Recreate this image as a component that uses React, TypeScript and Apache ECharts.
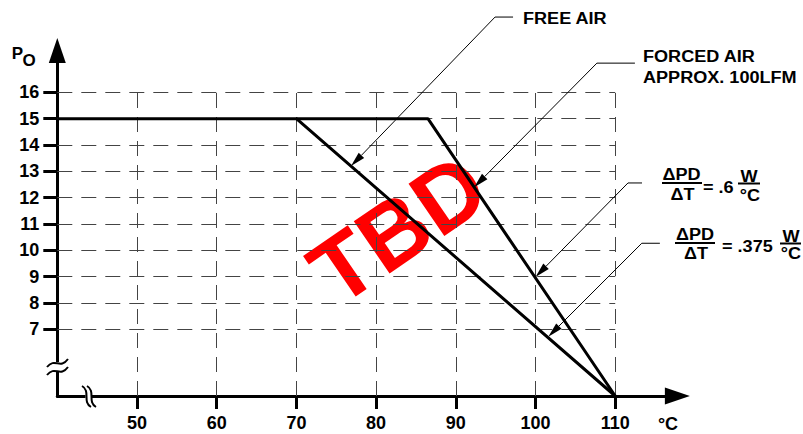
import React, { useEffect, useRef } from 'react';
import * as echarts from 'echarts';

const FONT = '"Liberation Sans", Arial, Helvetica, sans-serif';

const xTicks = [50, 60, 70, 80, 90, 100, 110];
const yTicks = [7, 8, 9, 10, 11, 12, 13, 14, 15, 16];
const X_MIN = 40;
const X_MAX = 117.8;
const Y_MIN = 4.47;
const Y_MAX = 17.59;

const freeAir: number[][] = [[40, 15], [70, 15], [110, 4.47]];
const forcedAir: number[][] = [[70, 15], [86.5, 15], [110, 4.47]];

// leader arrows: tip, elbow, tail end (data coordinates)
const arrowTips: number[][] = [[76.85, 13.2], [92.3, 12.4], [100.0, 8.99], [101.6, 6.72]];
const arrowElbows: number[][] = [[94.92, 18.86], [107.7, 17.11], [111.6, 12.56], [113.33, 10.27]];
const arrowEnds: number[][] = [[97.18, 18.86], [112.47, 17.11], [113.36, 12.56], [115.6, 10.27]];

export default function App() {
  const ref = useRef<HTMLDivElement>(null);
  useEffect(() => {
    if (!ref.current) return;
    const chart = echarts.init(ref.current, undefined, { renderer: 'svg' });
    const gx0 = Math.max(...xTicks);
    const gy0 = Math.max(...yTicks);
    const gridData: any[] = [
      ...xTicks.map((x) => [{ coord: [x, Y_MIN] }, { coord: [x, gy0] }]),
      ...yTicks.map((y) => [{ coord: [X_MIN, y] }, { coord: [gx0, y] }]),
    ];
    const lbl = { color: '#000', fontSize: 18, fontWeight: 'bold', fontFamily: FONT };
    const axisLine = {
      show: true,
      symbol: ['none', 'triangle'],
      symbolSize: [17, 25],
      lineStyle: { color: '#000', width: 3 },
    };
    const txt = (text: string, x: number, y: number, size: number, align: string, extra: any = {}) => ({
      type: 'text',
      x,
      y,
      z: 20,
      silent: true,
      ...extra,
      style: {
        text,
        fill: '#000',
        fontSize: size,
        fontWeight: 'bold',
        fontFamily: FONT,
        align,
        verticalAlign: 'middle',
      },
    });
    const bar = (x1: number, x2: number, y: number) => ({
      type: 'line',
      z: 20,
      silent: true,
      shape: { x1, y1: y, x2, y2: y },
      style: { stroke: '#000', lineWidth: 2 },
    });
    const staticGraphics: any[] = [
      {
        type: 'text',
        x: 398,
        y: 229,
        rotation: 0.6,
        z: 1,
        silent: true,
        style: {
          text: 'TBD',
          fill: '#ff0000',
          fontSize: 92,
          fontWeight: 'bold',
          fontFamily: FONT,
          align: 'center',
          verticalAlign: 'middle',
        },
      },
      txt('P', 17.5, 53, 17, 'center'),
      txt('O', 29, 60, 17, 'center'),
      txt('°C', 668, 424, 18, 'center'),
      txt('FREE AIR', 523, 19, 16, 'left', { scaleX: 1.13 }),
      txt('FORCED AIR', 643, 57, 16, 'left', { scaleX: 1.13 }),
      txt('APPROX. 100LFM', 643, 78, 16, 'left', { scaleX: 1.13 }),
      // .6 formula
      txt('ΔPD', 681.5, 175, 16, 'center', { scaleX: 1.13 }),
      bar(662, 702, 183),
      txt('ΔT', 682.5, 195, 16, 'center', { scaleX: 1.13 }),
      txt('= .6', 703, 188, 16, 'left', { scaleX: 1.13 }),
      txt('W', 749, 177, 16, 'center', { scaleX: 1.13 }),
      bar(738, 760, 183.5),
      txt('°C', 750, 196, 16, 'center', { scaleX: 1.13 }),
      // .375 formula
      txt('ΔPD', 695, 235, 16, 'center', { scaleX: 1.13 }),
      bar(675, 715, 243),
      txt('ΔT', 696, 254, 16, 'center', { scaleX: 1.13 }),
      txt('= .375', 722, 247, 16, 'left', { scaleX: 1.13 }),
      txt('W', 791, 237, 16, 'center', { scaleX: 1.13 }),
      bar(780, 801, 243.5),
      txt('°C', 791, 254, 16, 'center', { scaleX: 1.13 }),
      // y-axis break
      { type: 'rect', z: 30, silent: true, shape: { x: 53, y: 362, width: 9, height: 9 }, style: { fill: '#fff' } },
      {
        type: 'bezierCurve', z: 31, silent: true,
        shape: { x1: 47, y1: 367, cpx1: 55, cpy1: 357, cpx2: 60, cpy2: 370, x2: 68, y2: 359 },
        style: { stroke: '#000', lineWidth: 2, fill: 'none' },
      },
      {
        type: 'bezierCurve', z: 31, silent: true,
        shape: { x1: 47, y1: 375, cpx1: 55, cpy1: 365, cpx2: 60, cpy2: 378, x2: 68, y2: 367 },
        style: { stroke: '#000', lineWidth: 2, fill: 'none' },
      },
      // x-axis break
      { type: 'rect', z: 30, silent: true, shape: { x: 85.5, y: 393, width: 6, height: 6 }, style: { fill: '#fff' } },
      {
        type: 'bezierCurve', z: 31, silent: true,
        shape: { x1: 82, y1: 386, cpx1: 91, cpy1: 391, cpx2: 82, cpy2: 402, x2: 91, y2: 407 },
        style: { stroke: '#000', lineWidth: 2, fill: 'none' },
      },
      {
        type: 'bezierCurve', z: 31, silent: true,
        shape: { x1: 87, y1: 386, cpx1: 96, cpy1: 391, cpx2: 87, cpy2: 402, x2: 96, y2: 407 },
        style: { stroke: '#000', lineWidth: 2, fill: 'none' },
      },
    ];

    chart.setOption({
      animation: false,
      grid: { left: 57.3, right: 125.6, top: 50.5, bottom: 38, containLabel: false, outerBoundsMode: 'none' },
      xAxis: {
        type: 'value',
        min: X_MIN,
        max: X_MAX,
        axisLine,
        axisTick: { show: true, customValues: xTicks, length: 13, inside: false, lineStyle: { color: '#000', width: 3 } },
        axisLabel: { show: true, customValues: xTicks, margin: 18, ...lbl },
        splitLine: { show: false },
      },
      yAxis: {
        type: 'value',
        min: Y_MIN,
        max: Y_MAX,
        axisLine,
        axisTick: { show: true, customValues: yTicks, length: 14, inside: false, lineStyle: { color: '#000', width: 3 } },
        axisLabel: { show: true, customValues: yTicks, margin: 18, ...lbl },
        splitLine: { show: false },
      },
      series: [
        {
          name: 'Free air',
          type: 'line',
          data: freeAir,
          symbol: 'none',
          silent: true,
          z: 5,
          lineStyle: { color: '#000', width: 3 },
          markLine: {
            silent: true,
            symbol: ['none', 'none'],
            label: { show: false },
            lineStyle: { type: [15, 9], color: '#444', width: 1 },
            data: gridData,
          },
        },
        {
          name: 'Forced air',
          type: 'line',
          data: forcedAir,
          symbol: 'none',
          silent: true,
          z: 5,
          lineStyle: { color: '#000', width: 3 },
        },
      ],
      graphic: staticGraphics,
    });

    const arrows: any[] = [];
    arrowTips.forEach((tipD, i) => {
      const t = chart.convertToPixel({ gridIndex: 0 }, tipD) as number[];
      const e = chart.convertToPixel({ gridIndex: 0 }, arrowElbows[i]) as number[];
      const en = chart.convertToPixel({ gridIndex: 0 }, arrowEnds[i]) as number[];
      const dx = t[0] - e[0];
      const dy = t[1] - e[1];
      const len = Math.hypot(dx, dy);
      const ux = dx / len;
      const uy = dy / len;
      const L = 15;
      const W = 3.8;
      const bx = t[0] - ux * L;
      const by = t[1] - uy * L;
      arrows.push({
        type: 'polyline',
        z: 25,
        silent: true,
        shape: { points: [en, e, [bx, by]] },
        style: { stroke: '#000', lineWidth: 1, fill: 'none' },
      });
      arrows.push({
        type: 'polygon',
        z: 25,
        silent: true,
        shape: {
          points: [
            [t[0], t[1]],
            [bx - uy * W, by + ux * W],
            [bx + uy * W, by - ux * W],
          ],
        },
        style: { fill: '#000' },
      });
    });
    chart.setOption({ graphic: [...staticGraphics, ...arrows] });

    return () => chart.dispose();
  }, []);
  return (
    <div
      ref={ref}
      style={{ position: 'fixed', left: 0, top: 0, width: 803, height: 434, background: '#fff' }}
    />
  );
}
